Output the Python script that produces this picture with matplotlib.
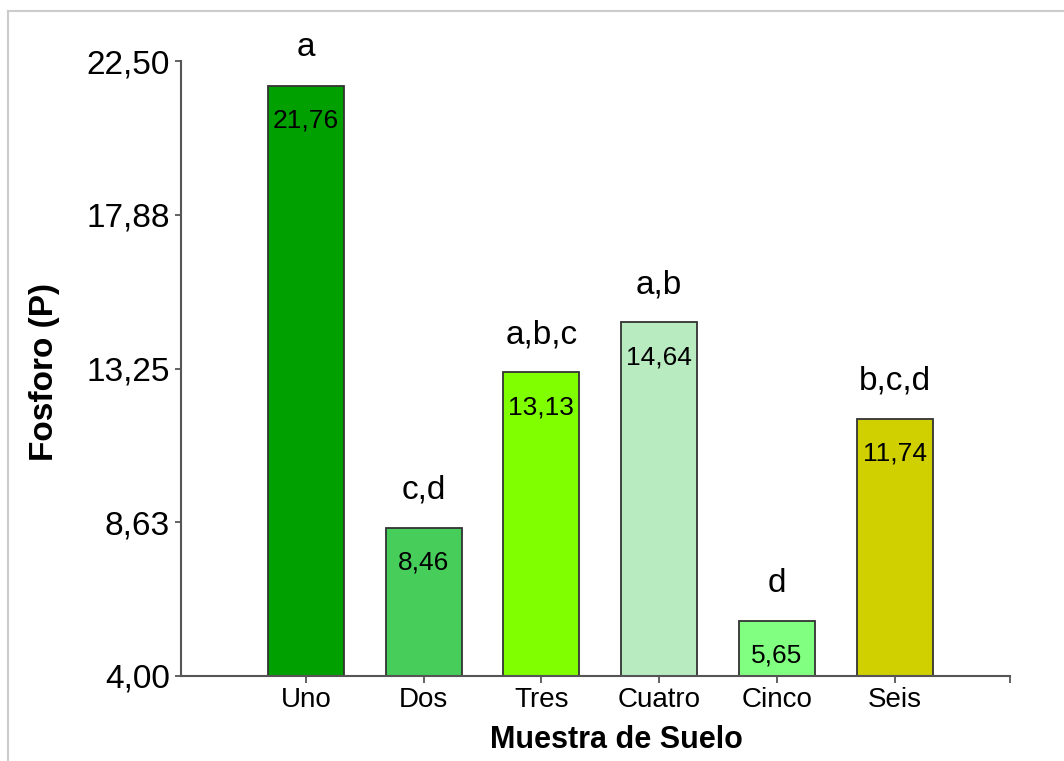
import matplotlib.pyplot as plt
from matplotlib.lines import Line2D

# data
muestras = ['Uno', 'Dos', 'Tres', 'Cuatro', 'Cinco', 'Seis']
fosforo = [21.76, 8.46, 13.13, 14.64, 5.65, 11.74]
valor_txt = ['21,76', '8,46', '13,13', '14,64', '5,65', '11,74']
letras = ['a', 'c,d', 'a,b,c', 'a,b', 'd', 'b,c,d']
colores = ['#00A000', '#46CD5A', '#80FF00', '#B8EBC0', '#80FF80', '#D0CF00']
yticks = [4.00, 8.63, 13.25, 17.88, 22.50]
ytick_txt = ['4,00', '8,63', '13,25', '17,88', '22,50']

plt.rcParams['font.family'] = ['Liberation Sans', 'DejaVu Sans']

fig = plt.figure(figsize=(10.64, 7.61), dpi=100)
ax = fig.add_axes([181/1064, 1-676/761, (1010-181)/1064, (676-61)/761])

base = yticks[0]
x = list(range(len(muestras)))
alturas = [v - base for v in fosforo]
ax.bar(x, alturas, bottom=base, width=0.645, color=colores,
       edgecolor='#333333', linewidth=1.3, zorder=2)

for xi, v, t, l in zip(x, fosforo, valor_txt, letras):
    ax.annotate(t, (xi, v), xytext=(0, -25), textcoords='offset points',
                ha='center', va='center', fontsize=19, color='black')
    ax.annotate(l, (xi, v), xytext=(0, 21), textcoords='offset points',
                ha='center', va='baseline', fontsize=24, color='black')

ax.set_xlim(-1.06, 5.98)
ax.set_ylim(yticks[0], yticks[-1])
ax.set_yticks(yticks)
ax.set_yticklabels(ytick_txt)
ax.set_xticks(x)
ax.set_xticklabels(muestras)
ax.set_xticks([5.98], minor=True)

for s in ['top', 'right']:
    ax.spines[s].set_visible(False)
for s in ['left', 'bottom']:
    ax.spines[s].set_color('#555555')
    ax.spines[s].set_linewidth(1.5)

ax.tick_params(axis='y', labelsize=24, length=4, width=1.3, color='#555555', pad=4)
ax.tick_params(axis='x', labelsize=20, length=5, width=1.3, color='#555555', pad=3)
ax.tick_params(axis='x', which='minor', length=5, width=1.3, color='#555555')

fig.text(45/1064, 1-372/761, 'Fosforo (P)', rotation=90, ha='center', va='center',
         fontsize=24, fontweight='bold')
fig.text(616/1064, 1-740/761, 'Muestra de Suelo', ha='center', va='center',
         fontsize=22, fontweight='bold')

# marco gris de la captura
fig.add_artist(Line2D([8/1064, 1], [1-11/761, 1-11/761], color='#cccccc', lw=1.5))
fig.add_artist(Line2D([8/1064, 8/1064], [0, 1-11/761], color='#cccccc', lw=1.5))

fig.savefig('out.png', dpi=100)
